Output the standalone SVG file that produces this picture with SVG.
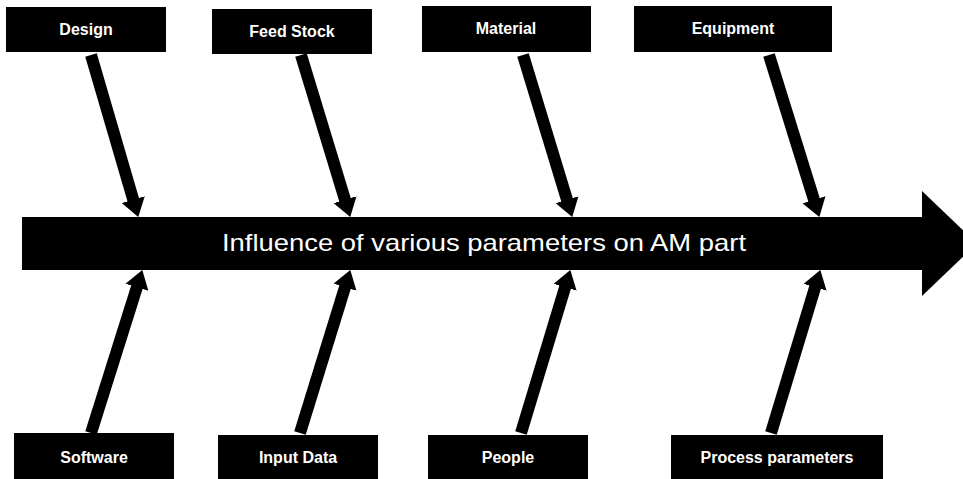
<svg xmlns="http://www.w3.org/2000/svg" width="963" height="479" viewBox="0 0 963 479">
  <style>
    .box { fill: #000; }
    .lbl { fill: #fff; font-family: "Liberation Sans", Arial, sans-serif; font-weight: bold; font-size: 16px; text-anchor: middle; }
    .title { fill: #fff; font-family: "Liberation Sans", Arial, sans-serif; font-size: 24px; text-anchor: middle; }
    .bone { stroke: #000; stroke-width: 12; fill: none; marker-end: url(#head); }
  </style>
  <defs>
    <marker id="head" markerUnits="userSpaceOnUse" viewBox="0 0 18 24" markerWidth="18" markerHeight="24" refX="1" refY="12" orient="auto">
      <path d="M0,0 L18,12 L0,24 Z" fill="#000"/>
    </marker>
  </defs>
  <rect width="963" height="479" fill="#fff"/>

  <!-- spine: effect arrow -->
  <g id="spine">
    <rect x="22" y="217" width="901" height="53" fill="#000"/>
    <polygon points="922,191 977,243.5 922,296" fill="#000"/>
    <text class="title" x="484" y="251" textLength="524" lengthAdjust="spacingAndGlyphs">Influence of various parameters on AM part</text>
  </g>

  <!-- cause categories -->
  <g id="design">
    <rect class="box" x="6" y="7" width="160" height="45"/>
    <text class="lbl" x="86" y="35">Design</text>
  </g>
  <g id="feed-stock">
    <rect class="box" x="212" y="9" width="160" height="45"/>
    <text class="lbl" x="292" y="37">Feed Stock</text>
  </g>
  <g id="material">
    <rect class="box" x="422" y="6" width="169" height="46"/>
    <text class="lbl" x="506" y="34">Material</text>
  </g>
  <g id="equipment">
    <rect class="box" x="634" y="6" width="198" height="46"/>
    <text class="lbl" x="733" y="34">Equipment</text>
  </g>
  <g id="software">
    <rect class="box" x="14" y="433" width="160" height="46"/>
    <text class="lbl" x="94" y="463">Software</text>
  </g>
  <g id="input-data">
    <rect class="box" x="218" y="435" width="160" height="44"/>
    <text class="lbl" x="298" y="463">Input Data</text>
  </g>
  <g id="people">
    <rect class="box" x="428" y="435" width="160" height="44"/>
    <text class="lbl" x="508" y="463">People</text>
  </g>
  <g id="process-parameters">
    <rect class="box" x="671" y="435" width="212" height="44"/>
    <text class="lbl" x="777" y="463">Process parameters</text>
  </g>

  <!-- bones into the spine -->
  <g id="connectors">
    <line class="bone" x1="91" y1="55" x2="133.5" y2="200.6"/>
    <line class="bone" x1="301" y1="55" x2="345.3" y2="200.7"/>
    <line class="bone" x1="523" y1="55" x2="567.3" y2="200.7"/>
    <line class="bone" x1="769" y1="55" x2="814.3" y2="200.7"/>
    <line class="bone" x1="91" y1="433" x2="137.2" y2="286.3"/>
    <line class="bone" x1="300" y1="433" x2="345.3" y2="286.3"/>
    <line class="bone" x1="521" y1="433" x2="565.4" y2="286.3"/>
    <line class="bone" x1="771" y1="433" x2="815.4" y2="286.3"/>
  </g>
</svg>
